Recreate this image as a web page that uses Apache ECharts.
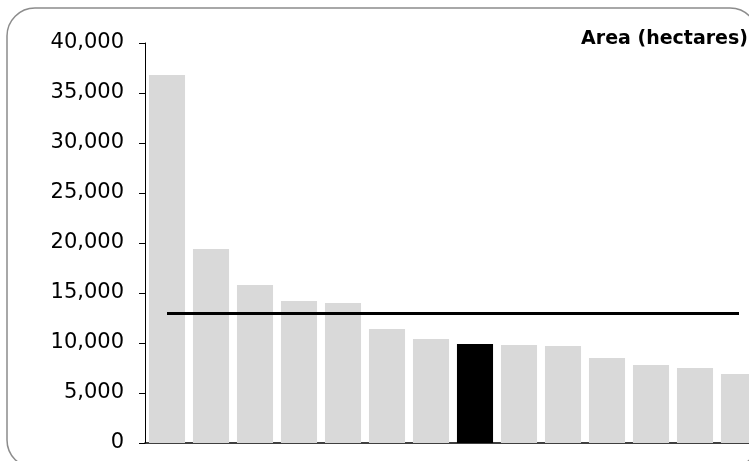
<!DOCTYPE html>
<html>
<head>
<meta charset="utf-8">
<script src="https://cdn.jsdelivr.net/npm/echarts@6/dist/echarts.min.js"></script>
<style>
  html, body { margin: 0; padding: 0; overflow: hidden; background: #fff; }
  #chart-container { width: 770px; height: 480px; }
</style>
</head>
<body>
<div id="chart-container"></div>
<script>
var dom = document.getElementById('chart-container');
var myChart = echarts.init(dom, null, { renderer: 'canvas' });

// bar categories (their labels fall below the visible picture)
var categories = ['1', '2', '3', '4', '5', '6', '7', '8', '9', '10', '11', '12', '13', '14'];
// area in hectares
var areas = [36800, 19400, 15800, 14200, 14000, 11400, 10400, 9900, 9800, 9700, 8500, 7800, 7500, 6900];
// the highlighted (black) bar
var highlightIndex = 7;
// level of the horizontal reference line
var refLevel = 13000;
var yTicks = [0, 5000, 10000, 15000, 20000, 25000, 30000, 35000, 40000];

var barData = areas.map(function (v, i) {
  return {
    value: v,
    itemStyle: { color: i === highlightIndex ? '#000000' : '#d9d9d9' }
  };
});

var option = {
  backgroundColor: '#fff',
  animation: false,
  title: {
    text: 'Area (hectares)',
    right: 22,
    top: 30,
    padding: 0,
    textStyle: {
      fontFamily: 'DejaVu Sans',
      fontSize: 19,
      fontWeight: 'bold',
      color: '#000'
    }
  },
  graphic: [
    {
      type: 'rect',
      shape: { x: 7, y: 8, width: 751, height: 460, r: 28 },
      style: { fill: null, stroke: '#8c8c8c', lineWidth: 1.5 },
      silent: true,
      z: -1
    }
  ],
  grid: {
    left: 145,
    top: 43,
    width: 616,
    height: 400
  },
  xAxis: {
    type: 'category',
    data: categories,
    axisLine: { lineStyle: { color: '#000', width: 1.5 } },
    axisTick: { show: false },
    axisLabel: { show: false }
  },
  yAxis: {
    type: 'value',
    min: yTicks[0],
    max: yTicks[yTicks.length - 1],
    interval: 5000,
    axisLine: { show: true, lineStyle: { color: '#000', width: 1 } },
    axisTick: { show: true, length: 6, lineStyle: { color: '#000' } },
    splitLine: { show: false },
    axisLabel: {
      margin: 21,
      fontFamily: 'DejaVu Sans',
      fontSize: 21,
      color: '#000',
      formatter: function (v) {
        return v.toLocaleString('en-US');
      }
    }
  },
  series: [
    {
      type: 'bar',
      data: barData,
      barCategoryGap: '18%',
      markLine: {
        silent: true,
        symbol: 'none',
        label: { show: false },
        lineStyle: { color: '#000', width: 3, type: 'solid' },
        data: [
          [
            { coord: [categories[0], refLevel] },
            { coord: [categories[categories.length - 1], refLevel] }
          ]
        ]
      }
    }
  ]
};

myChart.setOption(option);
window.addEventListener('resize', myChart.resize);
</script>
</body>
</html>
